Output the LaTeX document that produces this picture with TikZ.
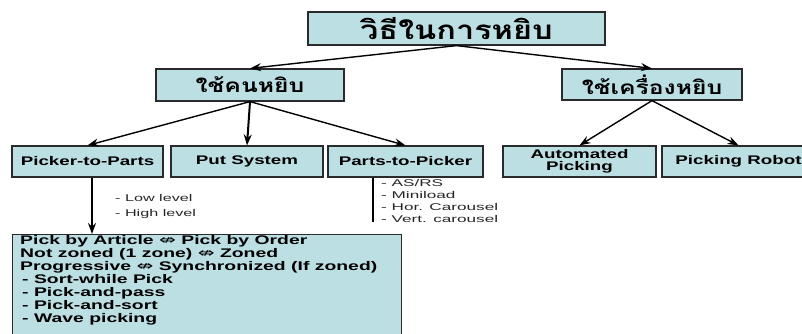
\documentclass[tikz,border=0pt]{standalone}
\usepackage{fontspec}
\setmainfont{Liberation Sans}
\newfontfamily\thaifont[Script=Thai]{Loma}
\newfontfamily\symfont{DejaVu Sans}
\usetikzlibrary{arrows.meta,calc}
\definecolor{boxfill}{HTML}{BCDFE3}
\definecolor{boxline}{HTML}{2A2A2A}
\newcommand{\sx}[2]{\scalebox{#1}[1]{#2}}
\newcommand{\dblarr}{{\mdseries\symfont\fontsize{13}{13}\selectfont ⇎}}
\begin{document}
\begin{tikzpicture}[x=1pt,y=-1pt,
  box/.style={draw=boxline,line width=1.2pt,fill=boxfill,inner sep=0pt,anchor=center},
  conn/.style={line width=1.4pt,-{Stealth[length=11pt,width=8pt]}},
  lbl/.style={font=\bfseries\fontsize{12.5}{12}\selectfont,align=center},
  small/.style={font=\fontsize{9.8}{12}\selectfont,inner sep=0pt,align=left,text=black!85}]
\useasboundingbox (0,0) rectangle (802,333);
\clip (0,0) rectangle (802,333);
\node[box,minimum width=297pt,minimum height=33pt] (top) at (456.5,28.5)
  {\thaifont\bfseries\fontsize{26}{26}\selectfont\sx{1.25}{วิธีในการหยิบ}};
\node[box,minimum width=188pt,minimum height=32pt] (human) at (250,85)
  {\thaifont\bfseries\fontsize{19}{19}\selectfont\sx{1.3}{ใช้คนหยิบ}};
\node[box,minimum width=180pt,minimum height=31pt] (machine) at (652,84.5)
  {\thaifont\bfseries\fontsize{19}{19}\selectfont\sx{1.3}{ใช้เครื่องหยิบ}};
\node[box,lbl,minimum width=151pt,minimum height=31pt] (p2p) at (87.5,161.5) {\sx{1.5}{Picker-to-Parts}};
\node[box,lbl,minimum width=152pt,minimum height=31pt] (put) at (247,161.5) {\sx{1.5}{Put System}};
\node[box,lbl,minimum width=155pt,minimum height=31pt] (pk) at (405.5,161.5) {\sx{1.5}{Parts-to-Picker}};
\node[box,lbl,minimum width=153pt,minimum height=31pt] (auto) at (579.5,161.5) {\sx{1.5}{Automated}\\\sx{1.5}{Picking}};
\node[box,lbl,minimum width=153pt,minimum height=31pt] (robot) at (738.5,161.5) {\sx{1.5}{Picking Robot}};
\node[box,minimum width=389pt,minimum height=120pt,anchor=north west] (detail) at (12,234) {};
\node[anchor=north west,inner sep=0pt,align=left,font=\bfseries\fontsize{12.5}{13}\selectfont] (detailtext) at (20,235.5)
  {\sx{1.55}{Pick by Article \dblarr{} Pick by Order}\\
   \sx{1.55}{Not zoned (1 zone) \dblarr{} Zoned}\\
   \sx{1.55}{Progressive \dblarr{} Synchronized (If zoned)}\\
   \hspace{2pt}\sx{1.55}{- Sort-while Pick}\\
   \hspace{2pt}\sx{1.55}{- Pick-and-pass}\\
   \hspace{2pt}\sx{1.55}{- Pick-and-sort}\\
   \hspace{2pt}\sx{1.55}{- Wave picking}};
\node[small,anchor=west] (low) at (115,198) {\sx{1.65}{- Low level}};
\node[small,anchor=west] (high) at (115,214) {\sx{1.65}{- High level}};
\node[small,anchor=north west] (aslist) at (381,179)
  {\sx{1.75}{- AS/RS}\\\sx{1.75}{- Miniload}\\\sx{1.75}{- Hor. Carousel}\\\sx{1.75}{- Vert. carousel}};
\coordinate (pkend) at (373,222);
\coordinate (p2pout) at ($(p2p.south)+(4.5,0)$);
\draw[conn] (top.south) -- (human.north);
\draw[conn] (top.south) -- (machine.north);
\draw[conn] (human.south) -- (p2p.north);
\draw[conn,line width=2pt] (human.south) -- (put.north);
\draw[conn] (human.south) -- (pk.north);
\draw[conn] (machine.south) -- (auto.north);
\draw[conn] (machine.south) -- (robot.north);
\draw[conn,line width=2pt] (p2pout) -- (p2pout |- detail.north);
\draw[line width=1.2pt] (pkend |- pk.south) -- (pkend);
\end{tikzpicture}
\end{document}
